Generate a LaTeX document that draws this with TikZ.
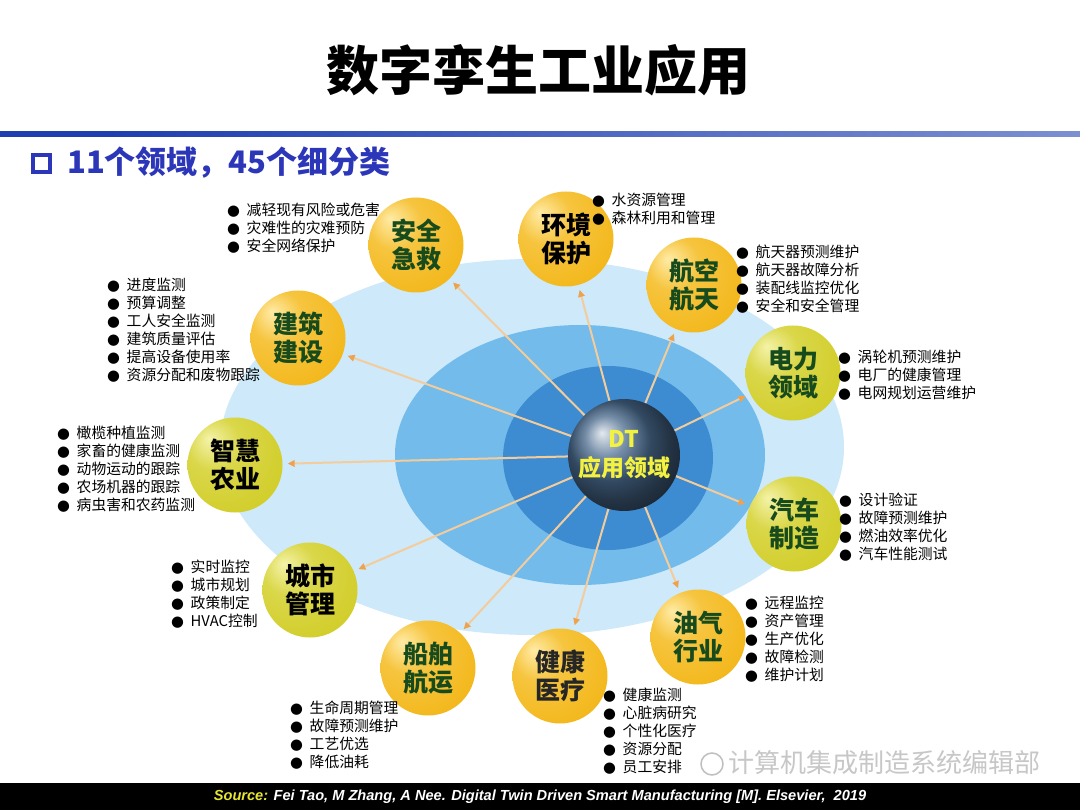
\documentclass[tikz,border=0pt]{standalone}
\usepackage{fontspec}
\setmainfont{Liberation Sans}
\newfontfamily\cjk{Noto Sans CJK SC}
\newfontfamily\symb{DejaVu Sans}
\usetikzlibrary{arrows.meta}
\definecolor{dgreen}{HTML}{174A1C}
\definecolor{subblue}{HTML}{2B36B8}
\definecolor{barblue}{HTML}{1F3FB0}
\definecolor{skyA}{HTML}{CDE9FA}
\definecolor{skyB}{HTML}{72BBEA}
\definecolor{skyC}{HTML}{3D8CD2}
\definecolor{goldhi}{HTML}{FFEBA6}
\definecolor{goldmain}{HTML}{F2B412}
\definecolor{goldedge}{HTML}{D58A00}
\definecolor{limehi}{HTML}{F4F3A8}
\definecolor{limemain}{HTML}{CFCB22}
\definecolor{limeedge}{HTML}{A39C0E}
\definecolor{dtball}{HTML}{48698C}
\definecolor{dtyellow}{HTML}{F4F240}
\definecolor{spokeline}{HTML}{F4CC9C}
\definecolor{spokehead}{HTML}{EFA24E}
\definecolor{srcyellow}{HTML}{E6E632}
\pgfdeclareradialshading{goldsh}{\pgfpoint{-14bp}{14bp}}{color(0bp)=(goldhi); color(14bp)=(goldmain!70!goldhi); color(40bp)=(goldmain); color(66bp)=(goldedge)}
\pgfdeclareradialshading{limesh}{\pgfpoint{-14bp}{14bp}}{color(0bp)=(limehi); color(14bp)=(limemain!70!limehi); color(40bp)=(limemain); color(66bp)=(limeedge)}
\pgfdeclarehorizontalshading{barsh}{100bp}{color(0bp)=(white); color(5bp)=(barblue); color(30bp)=(barblue); color(100bp)=(barblue!35!white)}
\newcommand{\itm}{\makebox[19.5pt][l]{\symb ●}}
\tikzset{
  dom/.style={circle, minimum size=95pt, inner sep=0pt, align=center, text=dgreen,
              font=\cjk\bfseries\fontsize{25}{28}\selectfont},
  goldsph/.style={dom, shading=goldsh},
  limesph/.style={dom, shading=limesh},
  blist/.style={anchor=north west, align=left, inner sep=0pt, font=\cjk\fontsize{14.8}{17.9}\selectfont},
  spoke/.style={draw=spokeline, line width=2pt, shorten >=5pt,
                -{Triangle[length=7pt,width=6.5pt,color=spokehead]}}
}
\begin{document}
\begin{tikzpicture}[x=1pt, y=-1pt]
  \useasboundingbox (0,0) rectangle (1080,810);
  \fill[white] (0,0) rectangle (1080,810);
  % title and header bar
  \node[font=\cjk\bfseries\fontsize{53}{60}\selectfont] (title) at (538,70) {数字孪生工业应用};
  \shade[shading=barsh] (0,132) rectangle (1080,137);
  \draw[subblue, line width=4pt] (33,155) rectangle (50,172);
  \node[anchor=west, inner sep=0pt, text=subblue, font=\cjk\bfseries\fontsize{31}{34}\selectfont] (subtitle) at (67,163) {11个领域，45个细分类};
  % layered discs
  \fill[skyA] (532,447) ellipse [x radius=312pt, y radius=188pt];
  \fill[skyB] (580,455) ellipse [x radius=185pt, y radius=130pt];
  \fill[skyC] (608,458) ellipse [x radius=105pt, y radius=92pt];
  % centre and domains
  \node[circle, minimum size=112pt, inner sep=0pt, shading=ball, ball color=dtball, align=center,
        text=dtyellow, font=\cjk\bfseries\fontsize{23}{29}\selectfont] (dt) at (624,455) {DT\\应用领域};
  \node[goldsph] (safety) at (416,245) {安全\\急救};
  \node[goldsph, text=black] (env) at (566,239) {环境\\保护};
  \node[goldsph] (aero) at (694,285) {航空\\航天};
  \node[limesph] (power) at (793,373) {电力\\领域};
  \node[limesph] (auto) at (794,524) {汽车\\制造};
  \node[goldsph] (oil) at (698,637) {油气\\行业};
  \node[goldsph, text=black!85] (health) at (560,676) {健康\\医疗};
  \node[goldsph] (ship) at (428,668) {船舶\\航运};
  \node[limesph, text=black] (city) at (310,590) {城市\\管理};
  \node[limesph, text=black] (agri) at (235,465) {智慧\\农业};
  \node[goldsph] (build) at (298,338) {建筑\\建设};
  \foreach \d in {safety,env,aero,power,auto,oil,health,ship,city,agri,build}
    \draw[spoke] (dt) -- (\d);
  % sub-category lists
  \node[blist] (safetylist) at (227,203) {\itm 减轻现有风险或危害\\\itm 灾难性的灾难预防\\\itm 安全网络保护};
  \node[blist] (envlist) at (592,193) {\itm 水资源管理\\\itm 森林利用和管理};
  \node[blist] (aerolist) at (736,245) {\itm 航天器预测维护\\\itm 航天器故障分析\\\itm 装配线监控优化\\\itm 安全和安全管理};
  \node[blist] (powerlist) at (838,350) {\itm 涡轮机预测维护\\\itm 电厂的健康管理\\\itm 电网规划运营维护};
  \node[blist] (autolist) at (839,493) {\itm 设计验证\\\itm 故障预测维护\\\itm 燃油效率优化\\\itm 汽车性能测试};
  \node[blist] (oillist) at (745,596) {\itm 远程监控\\\itm 资产管理\\\itm 生产优化\\\itm 故障检测\\\itm 维护计划};
  \node[blist] (healthlist) at (603,688) {\itm 健康监测\\\itm 心脏病研究\\\itm 个性化医疗\\\itm 资源分配\\\itm 员工安排};
  \node[blist] (shiplist) at (290,701) {\itm 生命周期管理\\\itm 故障预测维护\\\itm 工艺优选\\\itm 降低油耗};
  \node[blist] (citylist) at (171,560) {\itm 实时监控\\\itm 城市规划\\\itm 政策制定\\\itm HVAC控制};
  \node[blist] (agrilist) at (57,426) {\itm 橄榄种植监测\\\itm 家畜的健康监测\\\itm 动物运动的跟踪\\\itm 农场机器的跟踪\\\itm 病虫害和农药监测};
  \node[blist] (buildlist) at (107,278) {\itm 进度监测\\\itm 预算调整\\\itm 工人安全监测\\\itm 建筑质量评估\\\itm 提高设备使用率\\\itm 资源分配和废物跟踪};
  % watermark
  \node[circle, draw=black!25, line width=1.5pt, minimum size=22pt, inner sep=0pt] (wechat) at (712,764) {};
  \node[anchor=west, inner sep=0pt, text=black!22, font=\cjk\fontsize{26}{30}\selectfont] (wmark) at (728,763) {计算机集成制造系统编辑部};
  % source bar
  \fill[black] (0,783) rectangle (1080,810);
  \node[text=white, font=\bfseries\itshape\fontsize{14.6}{16}\selectfont] (source) at (540,797)
    {\textcolor{srcyellow}{Source:} Fei Tao, M Zhang, A Nee. Digital Twin Driven Smart Manufacturing [M]. Elsevier,~~2019};
\end{tikzpicture}
\end{document}
